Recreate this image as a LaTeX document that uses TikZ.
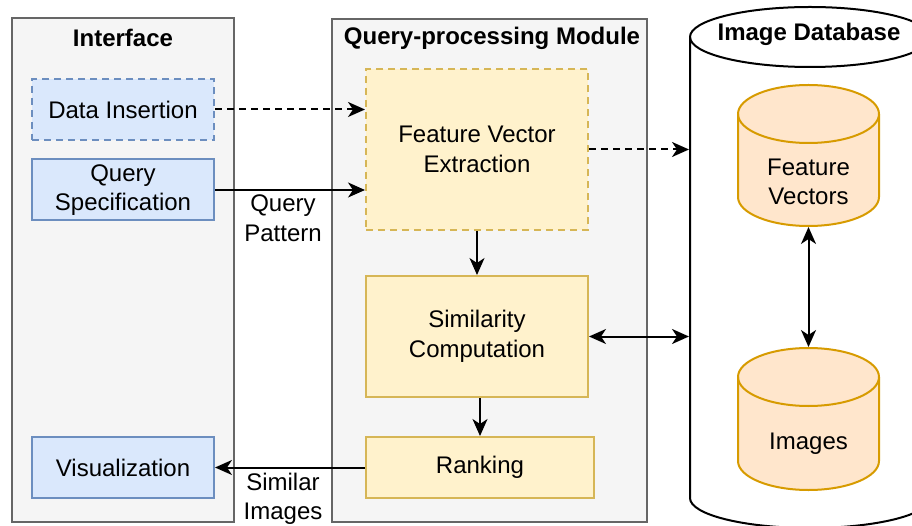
\documentclass[tikz,border=0pt]{standalone}
\usepackage{fontspec}
\setmainfont{Liberation Sans}
\usetikzlibrary{arrows.meta}

\definecolor{panelfill}{HTML}{F5F5F5}
\definecolor{paneldraw}{HTML}{666666}
\definecolor{bluefill}{HTML}{DAE8FC}
\definecolor{bluedraw}{HTML}{6C8EBF}
\definecolor{yellowfill}{HTML}{FFF2CC}
\definecolor{yellowdraw}{HTML}{D6B656}
\definecolor{orangefill}{HTML}{FFE6CC}
\definecolor{orangedraw}{HTML}{D79B00}

% cylinder outline: #1 style, #2 left x, #3 right x, #4 top y, #5 bottom y, #6 cap radius
\newcommand{\drawdrum}[6]{%
  \pgfmathsetmacro\drumrx{(#3-#2)/2}%
  \path[#1] (#2,#4+#6) -- (#2,#5-#6)
    arc[start angle=180,end angle=0,x radius=\drumrx,y radius=#6]
    -- (#3,#4+#6)
    arc[start angle=0,end angle=-180,x radius=\drumrx,y radius=#6] -- cycle;
  \path[#1,fill=none] (#2,#4+#6)
    arc[start angle=180,end angle=0,x radius=\drumrx,y radius=#6];
}

\begin{document}
\begin{tikzpicture}[x=1pt,y=-1pt,
  font=\fontsize{24}{29.5}\selectfont,
  line width=2pt,
  >={Stealth[length=17pt,width=15pt,inset=5pt]},
  panel/.style={draw=paneldraw,fill=panelfill,minimum width=#1,inner sep=0,minimum height=503pt},
  title/.style={font=\fontsize{24}{29.5}\selectfont\bfseries,inner sep=0},
  bluebox/.style={draw=bluedraw,fill=bluefill,minimum width=182pt,minimum height=61pt,inner sep=0,align=center},
  yellowbox/.style={draw=yellowdraw,fill=yellowfill,inner sep=0,align=center},
  dashline/.style={dash pattern=on 7pt off 5pt},
  txt/.style={inner sep=0,align=center},
  hidden/.style={inner sep=0,minimum width=#1},
  link/.style={draw=black,line width=2pt}
]
\useasboundingbox (0,0) rectangle (912,526);

% panels
\node[panel=222pt] (iface) at (123,270) {};
\node[title] (ifacetitle) at (123,38) {Interface};
\node[panel=315pt] (qmod) at (489.5,270.5) {};
\node[title] (qmodtitle) at (492,38) {Query-processing Module};

% interface boxes
\node[bluebox,dashline] (ins) at (123,109.5) {Data Insertion};
\node[bluebox] (qspec) at (123,190) {Query\\Specification};
\node[bluebox] (vis) at (123,467.5) {Visualization};

% query-processing boxes
\node[yellowbox,dashline,minimum width=222pt,minimum height=161pt] (fve) at (477,149.5) {Feature Vector\\Extraction};
\node[yellowbox,minimum width=222pt,minimum height=121pt] (sim) at (477,336.5) {Similarity\\Computation};
\node[yellowbox,minimum width=228pt,minimum height=61pt] (rank) at (480,467.5) {Ranking};

% image database
\begin{scope}
  \clip (0,0) rectangle (912,526);
  \drawdrum{draw=black,fill=white,line width=2pt}{690}{930}{7}{528}{30}
\end{scope}
\node[hidden=240pt,minimum height=521pt] (db) at (810,267.5) {};
\node[title] (dbtitle) at (809,34) {Image Database};

\drawdrum{draw=orangedraw,fill=orangefill,line width=2pt}{738}{879}{85}{226}{29}
\node[hidden=141pt,minimum height=141pt] (fv) at (808.5,155.5) {};
\node[txt] (fvtxt) at (808.5,182) {Feature\\Vectors};

\drawdrum{draw=orangedraw,fill=orangefill,line width=2pt}{738}{879}{348}{490}{29}
\node[hidden=141pt,minimum height=142pt] (img) at (808.5,419) {};
\node[txt] (imgtxt) at (808.5,444) {Images};

% connectors
\draw[link,dashline,->] (ins.east) -- (ins.east -| fve.west);
\draw[link,->] (qspec.east) -- (qspec.east -| fve.west);
\node[txt] (qpat) at (283,218) {Query\\Pattern};
\draw[link,->] (fve.south) -- (sim.north);
\draw[link,->] (sim.south -| rank.north) -- (rank.north);
\draw[link,->] (rank.west) -- (vis.east);
\node[txt] (simimg) at (283,499) {Similar\\Images};
\draw[link,dashline,->] (fve.east) -- (fve.east -| db.west);
\draw[link,<->] (sim.east) -- (sim.east -| db.west);
\draw[link,<->] (fv.south) -- (img.north);
\end{tikzpicture}
\end{document}
